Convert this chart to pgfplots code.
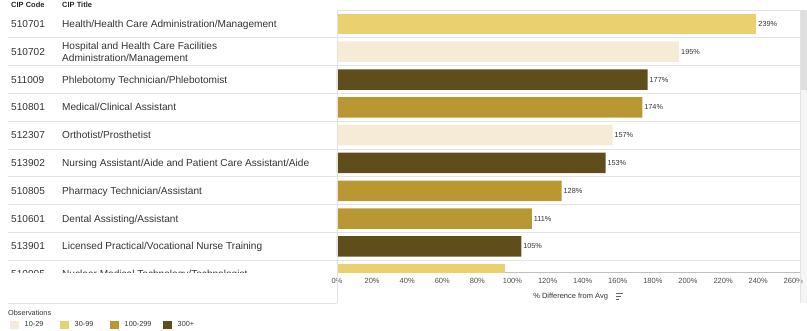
\documentclass[border=0pt]{standalone}
\usepackage{pgfplots}
\pgfplotsset{compat=1.18}
\usepackage{fontspec}
\setmainfont{Liberation Sans}
\definecolor{cA}{HTML}{F5EBD6}
\definecolor{cB}{HTML}{EBD06F}
\definecolor{cC}{HTML}{B99834}
\definecolor{cD}{HTML}{5F4E1C}
\definecolor{txt}{HTML}{333333}
\definecolor{sep}{HTML}{E3E3E3}
\pgfplotsset{
  mybar/.style={xbar, bar shift=0pt, bar width=20.5pt, draw=none, fill=#1,
    legend image code/.code={\fill[fill=#1] (0pt,-3.8pt) rectangle (8.5pt,3.8pt);}},
  mylab/.style={nodes near coords={\pgfmathprintnumber{\pgfplotspointmeta}\%},
    point meta=x, nodes near coords align=horizontal,
    every node near coord/.append style={font=\fontsize{7.3}{8}\selectfont, text=txt, inner sep=1.8pt}}
}
\newcommand{\rowfont}{\fontsize{10.1}{12}\selectfont}
\begin{document}
\begin{tikzpicture}[x=1pt,y=1pt]
\path[use as bounding box] (0,0) rectangle (807,-331);
% scrollbar
\fill[black!4] (800,-10) rectangle (807,-303);
\fill[black!13] (800,-10) rectangle (807,-90);
% row separators
\foreach \k in {1,...,9} { \draw[sep,line width=0.8pt] (8,{-10-27.8*\k}) -- (800,{-10-27.8*\k}); }
\draw[sep,line width=0.8pt] (337,-10) -- (800,-10);
\draw[black!25,line width=0.6pt] (337,-272.5) -- (800,-272.5);
\begin{axis}[at={(337pt,-10pt)}, anchor=north west, scale only axis,
  width=456.3pt, height=262pt,
  xmin=0, xmax=260, ymin=-0.5, ymax=8.92, y dir=reverse,
  axis line style={draw=none}, ytick=\empty,
  xtick={0,20,...,260}, major tick length=0pt,
  xticklabel={\pgfmathprintnumber{\tick}\%},
  /pgf/number format/assume math mode=true,
  tick label style={font=\fontsize{7.5}{8}\selectfont, text=black!70},
  xticklabel style={yshift=-3pt},
  xlabel={\% Difference from Avg},
  xlabel style={font=\fontsize{7.5}{8}\selectfont, text=black!80, name=xlab, xshift=5.5pt, yshift=-2pt},
  clip=true,
  legend columns=4,
  legend cell align=left,
  legend style={at={(-0.7166,-0.2023)}, anchor=west, draw=none, fill=none, inner sep=0pt,
    font=\fontsize{7.3}{8}\selectfont, text=txt,
    /tikz/every odd column/.append style={column sep=4pt},
    /tikz/every even column/.append style={column sep=0pt}},
]
\addplot[mybar=cA, mylab] coordinates {(195,1) (157,4)};
\addlegendentry{\makebox[33.5pt][l]{10-29}}
\addplot[mybar=cB, mylab] coordinates {(239,0)};
\addlegendentry{\makebox[33.5pt][l]{30-99}}
\addplot[mybar=cC, mylab] coordinates {(174,3) (128,6) (111,7)};
\addlegendentry{\makebox[36.5pt][l]{100-299}}
\addplot[mybar=cD, mylab] coordinates {(177,2) (153,5) (105,8)};
\addlegendentry{300+}
\addplot[mybar=cB, forget plot] coordinates {(96,9)};
\end{axis}
% sort icon next to axis label
\draw[black!60, line width=0.6pt] ([xshift=4pt,yshift=2.6pt]xlab.east) -- ++(7,0);
\draw[black!60, line width=0.6pt] ([xshift=4pt,yshift=0pt]xlab.east) -- ++(5,0);
\draw[black!60, line width=0.6pt] ([xshift=4pt,yshift=-2.6pt]xlab.east) -- ++(3,0);
% left table panel borders
\draw[sep,line width=0.8pt] (337,-10) -- (337,-303);
\draw[sep,line width=0.8pt] (800,-10) -- (800,-303);
\draw[sep,line width=0.8pt] (8,-303) -- (337,-303);
% header
\node[anchor=base west, inner sep=0pt, font=\fontsize{7.5}{9}\bfseries\selectfont, text=black!85] at (11,-7.8) {CIP Code};
\node[anchor=base west, inner sep=0pt, font=\fontsize{7.5}{9}\bfseries\selectfont, text=black!85] at (62,-7.8) {CIP Title};
% table rows
\begin{scope}
\clip (0,-10) rectangle (336.5,-272.5);
\foreach \c/\t [count=\i from 0] in {
  510701/{Health/Health Care Administration/Management},
  510702/{},
  511009/{Phlebotomy Technician/Phlebotomist},
  510801/{Medical/Clinical Assistant},
  512307/{Orthotist/Prosthetist},
  513902/{Nursing Assistant/Aide and Patient Care Assistant/Aide},
  510805/{Pharmacy Technician/Assistant},
  510601/{Dental Assisting/Assistant},
  513901/{Licensed Practical/Vocational Nurse Training},
  510905/{Nuclear Medical Technology/Technologist}} {
  \node[anchor=base west, inner sep=0pt, font=\rowfont, text=txt] at (11,{-23.9-27.8*\i-3.6}) {\c};
  \node[anchor=base west, inner sep=0pt, font=\rowfont, text=txt] at (62,{-23.9-27.8*\i-3.6}) {\t};
}
\node[anchor=west, inner sep=0pt, align=left, font=\rowfont, text=txt] at (62,-53.2) {Hospital and Health Care Facilities\\Administration/Management};
\end{scope}
% legend title
\node[anchor=base west, inner sep=0pt, font=\fontsize{7.3}{8}\selectfont, text=txt] at (8,-316) {Observations};
\end{tikzpicture}
\end{document}
